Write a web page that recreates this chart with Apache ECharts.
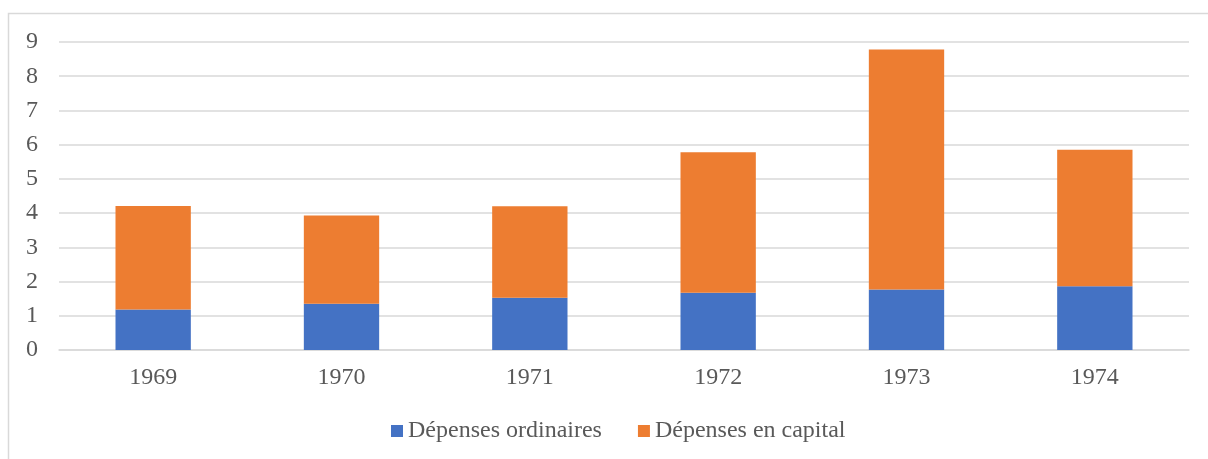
<!DOCTYPE html>
<html>
<head>
<meta charset="utf-8">
<script src="https://cdn.jsdelivr.net/npm/echarts@6/dist/echarts.min.js"></script>
<style>
html,body{margin:0;padding:0;background:#fff;}
#chart{width:1208px;height:459px;}
</style>
</head>
<body>
<div id="chart"></div>
<script>
const categories = ['1969', '1970', '1971', '1972', '1973', '1974'];
const ordinaires = [1.18, 1.35, 1.53, 1.67, 1.77, 1.86];
const capital = [3.03, 2.58, 2.67, 4.11, 7.01, 3.99];
const seriesNames = ['Dépenses ordinaires', 'Dépenses en capital'];
const yTicks = [0, 1, 2, 3, 4, 5, 6, 7, 8, 9];

const FONT = '"Liberation Serif", "Times New Roman", serif';
const TXT = '#595959';
const chart = echarts.init(document.getElementById('chart'), null, {renderer: 'canvas'});
chart.setOption({
  animation: false,
  backgroundColor: '#fff',
  color: ['#4472C4', '#ED7D31'],
  graphic: [{
    type: 'polyline',
    shape: {points: [[8.5, 470], [8.5, 13.5], [1220, 13.5]]},
    style: {stroke: '#d9d9d9', lineWidth: 1.5, fill: null},
    silent: true
  }],
  grid: {left: 59, right: 19, top: 42, bottom: 109, containLabel: false},
  legend: {
    bottom: 11,
    left: 386,
    itemWidth: 12,
    itemHeight: 12,
    itemGap: 36,
    icon: 'rect',
    textStyle: {fontFamily: FONT, fontSize: 24, color: TXT, padding: [0, 0, 0, 0]},
    data: seriesNames
  },
  xAxis: {
    type: 'category',
    data: categories,
    axisLine: {lineStyle: {color: '#d9d9d9', width: 1.5}},
    axisTick: {show: false},
    axisLabel: {fontFamily: FONT, fontSize: 24, color: TXT, margin: 16}
  },
  yAxis: {
    type: 'value',
    min: yTicks[0],
    max: yTicks[yTicks.length - 1],
    interval: 1,
    axisLine: {show: false},
    axisTick: {show: false},
    splitLine: {lineStyle: {color: '#d9d9d9', width: 1.5}},
    axisLabel: {fontFamily: FONT, fontSize: 24, color: TXT, margin: 21}
  },
  series: [
    {name: seriesNames[0], type: 'bar', stack: 'total', barWidth: '40%', data: ordinaires},
    {name: seriesNames[1], type: 'bar', stack: 'total', barWidth: '40%', data: capital}
  ]
});
</script>
</body>
</html>
